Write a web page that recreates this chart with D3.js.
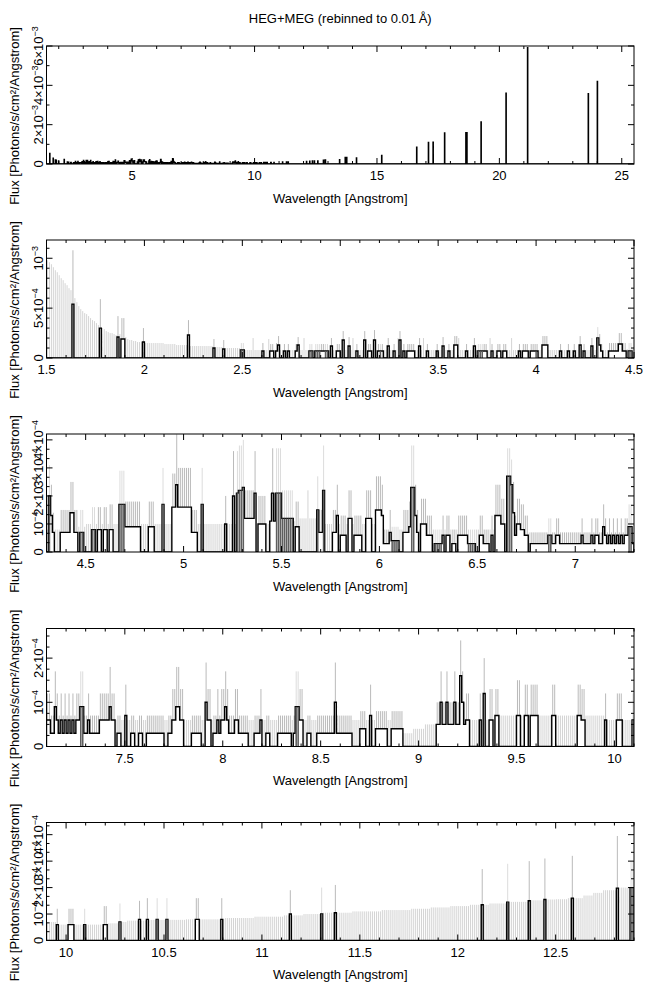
<!DOCTYPE html>
<html lang="en">
<head>
<meta charset="UTF-8">
<title>HEG+MEG (rebinned to 0.01 A)</title>
<script src="https://cdn.jsdelivr.net/npm/d3@7.8.4/dist/d3.min.js"></script>
<style>
  body { margin: 0; background: #fff; }
  svg { display: block; font-family: "Liberation Sans", Arial, Helvetica, sans-serif; }
</style>
</head>
<body>
<svg id="chart" width="650" height="991"></svg>
<script>
// Spectrum in 0.01 A bins, flux in units of 1e-5 photons/s/cm^2/A.
// token = flux[d]/upper[*n] : d = bin drawn dark grey, *n = repeated n bins
const binWidth = 0.01;
const sections = [
  [1.50, "0/98 0/96 0/94 0/91 0/88 0/86 0/83 0/80 0/78 0/75 0/73 0/70 0/68 54/108 0/60 0/56 0/52 0/49 0/47 0/45 0/44 0/42 0/40 0/38 0/37 0/35 0/33 30/59 0/30 0/29 0/27 0/26 0/25 0/25 0/24 0/23 21/42 0/24 19/40*2 0/21 0/19 0/18 0/18 0/17 0/17 0/16 0/16 0/16 16/30"],
  [2.00, "0/15*10 0/14*6 0/13*6 23/38 0/12*12 10/19 0/11*4 9/18 0/10*8 8d/15"],
  [2.50, "8d/15 0/8*4 0/20 0/8*4 7/15 0/8*2 0/19 7/14*2 0/8 7/15 13/22 0/8*2 7/14 0/8 7/14 0/8*3 7/14 13/21 0/8*2 0/20 0/8*2 7d/14*2 0/8 7d/14*3 7/14*2 7d/14*2 0/8 12/20 0/8*2 7/14*2"],
  [3.00, "0/8 18/27 0/8*2 12/21 0/8 0/20 0/8 7/14 0/8*3 18/27 0/8 7/14*2 0/8 18/28 0/8 7/14 7d/14 7/14 0/8*2 12/20 0/8*2 7/14 0/8 0/20 18/27 0/8 7/14 0/8 7/14*4 0/8*2 12/20 0/8 0/20 0/8 7/14 0/8*4 7/14"],
  [3.50, "0/8*2 12/21 0/8*2 7/14 0/8*2 13/22*2 0/20 0/8*3 7/14 0/8*3 12/20 0/8 7d/14*3 7/14*2 0/8 0/20 7/14 0/8*2 7/14*2 0/8 7/14*2 0/8*2 0/20 0/8*3 7/14 0/8 7/14*3 0/8 7/14*3"],
  [4.00, "7/14 0/8*2 13/22*3 0/8*6 7/14 0/8*3 7/14 0/8*2 7/14 0/8*2 13/22 0/8 7/14 0/8*3 12/20 0/8*2 20d/31 13/24 7/14 0/8*3 7/15*5 14/25*2 7/15*2 0/9 7d/15*2 0/9"],
  [4.50, "0/10*3 8d/16*2 0/10 8/16*2 0/10 8/16*2 0/10 8/17*2 0/10*3 17d/29*3 9/18*8 0/10*4 9/18*3 0/10*4 17d/30 0/10*4 16/28*2 24/42 16/30*3"],
  [5.00, "16/30*4 7/15*3 0/10*2 17d/30 0/10*11 10/20 0/10*3 20/36 0/10 21d/36 22d/38*2 23d/40 12/22*5 21/36 0/10 10/20*4 0/10*2 11/21 21/37 11/21 21d/37*3"],
  [5.50, "12d/22*6 0/11 9/18*2 0/12*4 0/22 0/12*4 15d/27 7/15*2 22d/38 0/10*4 7/15*2 13/24 0/10 6/13*3 0/10 12/22*2 0/10 6/13*4 0/10*2 12/22*3 0/10*2 15/27*2"],
  [6.00, "15/27 13/24 3/8*3 7/15 4d/9*4 0/8*2 7/15*3 9/18 23d/38*2 13/24 7/15 0/8 10/19*3 6/13*3 0/8 3d/8*4 6/13 0/8 6/13*2 0/8 3/8*2 0/8 6/13*5 3d/8*4 0/8"],
  [6.50, "0/8 6/13*2 3/8*3 0/8 6/13 0/8 13/24*3 10/19*2 0/8 27d/37*2 24d/33 14/25 6/13 10/19*2 8/17*2 6/13*2 0/7 3/7*9 6d/12*2 3/7*2 6/12*2 3/7*8"],
  [7.00, "3/7*3 6/12 3/7*4 6/12 3/7 6/12*2 3/7*2 9/17 6/12 3/7 6/12 3/7 6/12 3/7 6/12 3/7 6/12 3/7 6/12*2 9d/17*2 3/7*2 6/12 3/7*5 6/12*5 9/18 6/12*2 0/6 3/7*2 0/6*2"],
  [7.50, "7/14 0/6*2 3/7*2 0/6*2 3/7*2 0/6*2 3/7*9 0/6*2 3/7*2 6/13*2 9/18*2 6/13*2 0/6*4 3/7*5 0/6*2 10/19 6/13*2 0/6 3/7*2 6/13 3/7 6/13"],
  [8.00, "6/13 9/17 6/13 3/7*3 6/13*2 3/7*5 0/6*3 3/7*3 6/13 0/6*2 3/7*2 0/6*4 3/7*7 0/6 3/7 9d/17*2 6/13*2 0/6*2 3/7*2 0/6*3 3/7*2"],
  [8.50, "3/7*7 10/19 3/7*8 0/6*4 4/8*3 0/6*2 7/14 0/6*2 4/8*6 0/6*2 4/8*6 0/3*5 0/4*3"],
  [9.00, "0/4*3 0/5*6 5/10*2 10/17 5/10*2 10/17 5/10*3 10/17 5/10*2 16/24 10/17 5/10 6/12*2 0/6*5 6/12 0/6 12/20 0/6*2 6/13*2 0/6 7/13*2 0/7*9"],
  [9.50, "7/15*2 0/7*2 7/14*2 0/7 7/14*4 0/7*7 7/14*2 0/7*11 7/14*2 6/13*2 0/7*10 6/12 0/6*4"],
  [10.00, "0/6 6/12*3 0/6*5 6d/12 0/6*9 6/13*2 0/6.5*6 7d/14 0/7*3 0/7.5*6 8/15 0/7.5*3 8/16 0/7.8*4 8d/16 0/7.8*3"],
  [10.50, "0/7.8 8d/16 0/7.8*9 0/8*5 8/16*2 0/8*11 8/16 0/8 0/8.5*15 0/9*4"],
  [11.00, "0/9*11 0/9.5*3 10/19 0/9.5*6 0/10*9 10d/20 0/10.5*6 10.5/21 0/10.5*8 0/11*4"],
  [11.50, "0/11*11 0/11.5*15 0/12*10 0/12.5*10 0/13*4"],
  [12.00, "0/13*6 0/13.5*6 13.5/27 0/13.5*3 0/14*9 14.5d/29 0/14.6*10 15/30 0/15.2*7 15.5/31 0/15.5*5"],
  [12.50, "0/15.6*6 0/16*2 16/32 0/16*5 0/17*5 0/18*5 0/19*7 19.8/39.5 0/20*6 20d/30*2"]
];

// long-wavelength lines, only seen in the overview panel (1e-5 units)
const lineWave = [13.47, 13.70, 13.76, 14.16, 15.19, 16.62, 17.10, 17.29, 17.76, 18.63, 18.67, 19.25, 20.27, 21.15, 23.63, 24.00];
const lineFlux = [22, 33, 33, 31, 43, 86, 110, 111, 158, 159, 159, 214, 360, 591, 357, 420];
const fullEnd = 25.5;

// panels
const panelLo = [1.5, 1.5, 4.3, 7.1, 9.9];
const panelHi = [25.5, 4.5, 7.3, 10.1, 12.9];
const panelYMax = [6e-3, 1.183e-3, 4.21e-4, 2.67e-4, 4.46e-4];
const panelTop = [46, 240, 434, 628.5, 822.5];
const xMajor = [5, 0.5, 0.5, 0.5, 0.5];
const xMinorN = [5, 5, 5, 5, 5];
const yMajor = [2e-3, 5e-4, 1e-4, 1e-4, 1e-4];
const yMinorN = [2, 5, 3, 4, 3];

const title = "HEG+MEG (rebinned to 0.01\u2009Å)";
const xTitle = "Wavelength [Angstrom]";
const yTitle = "Flux [Photons/s/cm²/Angstrom]";

// ---- parse bins
const bins = [];
sections.forEach(([start, str]) => {
  let k = 0;
  str.trim().split(/\s+/).forEach(tok => {
    const m = tok.match(/^([\d.]+)(d?)\/([\d.]+)(?:\*(\d+))?$/);
    const n = m[4] ? +m[4] : 1;
    for (let j = 0; j < n; j++, k++) {
      const lo = Math.round((start + k * binWidth) * 100) / 100;
      bins.push({ lo: lo, hi: lo + binWidth, flux: +m[1] * 1e-5, upper: +m[3] * 1e-5, dark: m[2] === "d" });
    }
  });
});

const lineMap = new Map(lineWave.map((w, i) => [Math.round(w * 100), lineFlux[i] * 1e-5]));
const lastLo = bins[bins.length - 1].lo;
const farBins = d3.range(Math.round((fullEnd - lastLo) * 100) - 1).map(k => {
  const lo = Math.round((lastLo + (k + 1) * binWidth) * 100) / 100;
  return { lo: lo, hi: lo + binWidth, flux: lineMap.get(Math.round(lo * 100)) || 0, upper: 0, dark: false };
});
const allBins = bins.concat(farBins);

// ---- layout
const L = 46.5, R = 634, H = 118;
const fs = 13;
const svg = d3.select("#chart");

svg.append("text")
  .attr("x", (L + R) / 2).attr("y", 22.5)
  .attr("text-anchor", "middle").attr("font-size", fs)
  .text(title);

function sciLabel(sel, v) {
  if (v === 0) { sel.text("0"); return; }
  const e = Math.floor(Math.log10(v) + 1e-9);
  const m = Math.round(v / Math.pow(10, e));
  sel.append("tspan").text((m === 1 ? "" : m + "×") + "10");
  sel.append("tspan").attr("dy", -5).attr("font-size", 9).text("−" + (-e));
}

panelLo.forEach((lo, p) => {
  const hi = panelHi[p];
  const top = panelTop[p], bottom = top + H;
  const x = d3.scaleLinear().domain([lo, hi]).range([L, R]);
  const y = d3.scaleLinear().domain([0, panelYMax[p]]).range([bottom, top]);
  const g = svg.append("g");

  g.append("clipPath").attr("id", "clip" + p)
    .append("rect").attr("x", L).attr("y", top).attr("width", R - L).attr("height", H);
  const plot = g.append("g").attr("clip-path", "url(#clip" + p + ")");

  const data = (p === 0 ? allBins : bins).filter(b => b.lo >= lo - 1e-6 && b.hi <= hi + 1e-6);

  // error bars (detail panels only)
  if (p > 0) {
    plot.append("g").selectAll("line")
      .data(data)
      .join("line")
      .attr("x1", d => x(d.lo + binWidth / 2))
      .attr("x2", d => x(d.lo + binWidth / 2))
      .attr("y1", d => y(d.flux))
      .attr("y2", d => y(d.upper))
      .attr("stroke", d => d.flux === 0 ? "#d4d4d4" : (d.dark ? "#dcdcdc" : "#bababa"))
      .attr("stroke-width", 1);
  }

  // histogram
  const pts = [[data[0].lo, 0]].concat(data.map(d => [d.lo, d.flux]));
  const last = data[data.length - 1];
  pts.push([last.hi, last.flux], [last.hi, 0]);
  plot.append("path")
    .attr("d", d3.line().x(d => x(d[0])).y(d => y(d[1])).curve(d3.curveStepAfter)(pts))
    .attr("fill", "none")
    .attr("stroke", "#000")
    .attr("stroke-width", 1.4);

  if (p > 0) {
    plot.append("g").selectAll("rect")
      .data(data.filter(d => d.dark))
      .join("rect")
      .attr("x", d => x(d.lo) + 0.2)
      .attr("width", d => x(d.hi) - x(d.lo) - 0.4)
      .attr("y", d => y(d.flux) + 0.2)
      .attr("height", d => y(0) - y(d.flux))
      .attr("fill", "#5e5e5e");
  }

  // frame
  g.append("rect").attr("x", L).attr("y", top).attr("width", R - L).attr("height", H)
    .attr("fill", "none").attr("stroke", "#000").attr("stroke-width", 1);

  // x ticks
  const xs = xMajor[p], xm = xs / xMinorN[p];
  const xMaj = d3.range(Math.ceil(lo / xs - 1e-9) * xs, hi + 1e-9, xs);
  const xMin = d3.range(Math.ceil(lo / xm - 1e-9) * xm, hi + 1e-9, xm);
  const ticks = g.append("g").attr("stroke", "#000").attr("stroke-width", 1);
  xMin.forEach(v => {
    const isMaj = xMaj.some(m => Math.abs(m - v) < 1e-6);
    const len = isMaj ? 6 : 3;
    ticks.append("line").attr("x1", x(v)).attr("x2", x(v)).attr("y1", bottom).attr("y2", bottom - len);
    ticks.append("line").attr("x1", x(v)).attr("x2", x(v)).attr("y1", top).attr("y2", top + len);
  });
  g.append("g").selectAll("text")
    .data(xMaj)
    .join("text")
    .attr("x", d => x(d)).attr("y", bottom + 16)
    .attr("text-anchor", "middle").attr("font-size", fs)
    .text(d => d3.format("~g")(+d.toFixed(4)));

  // y ticks
  const ys = yMajor[p], ym = ys / yMinorN[p];
  const yMaj = d3.range(0, panelYMax[p] + 1e-12, ys);
  const yMin = d3.range(0, panelYMax[p] + 1e-12, ym);
  yMin.forEach((v, i) => {
    const isMaj = i % yMinorN[p] === 0;
    const len = isMaj ? 6 : 3;
    ticks.append("line").attr("x1", L).attr("x2", L + len).attr("y1", y(v)).attr("y2", y(v));
    ticks.append("line").attr("x1", R).attr("x2", R - len).attr("y1", y(v)).attr("y2", y(v));
  });
  yMaj.forEach(v => {
    const t = g.append("text")
      .attr("transform", "translate(42.5," + y(v) + ") rotate(-90)")
      .attr("text-anchor", "middle").attr("font-size", fs);
    sciLabel(t, v);
  });

  // axis titles
  g.append("text")
    .attr("x", (L + R) / 2).attr("y", bottom + 38.5)
    .attr("text-anchor", "middle").attr("font-size", fs)
    .text(xTitle);
  g.append("text")
    .attr("transform", "translate(19," + ((top + bottom) / 2 + 11) + ") rotate(-90)")
    .attr("text-anchor", "middle").attr("font-size", fs)
    .text(yTitle);
});
</script>
</body>
</html>
